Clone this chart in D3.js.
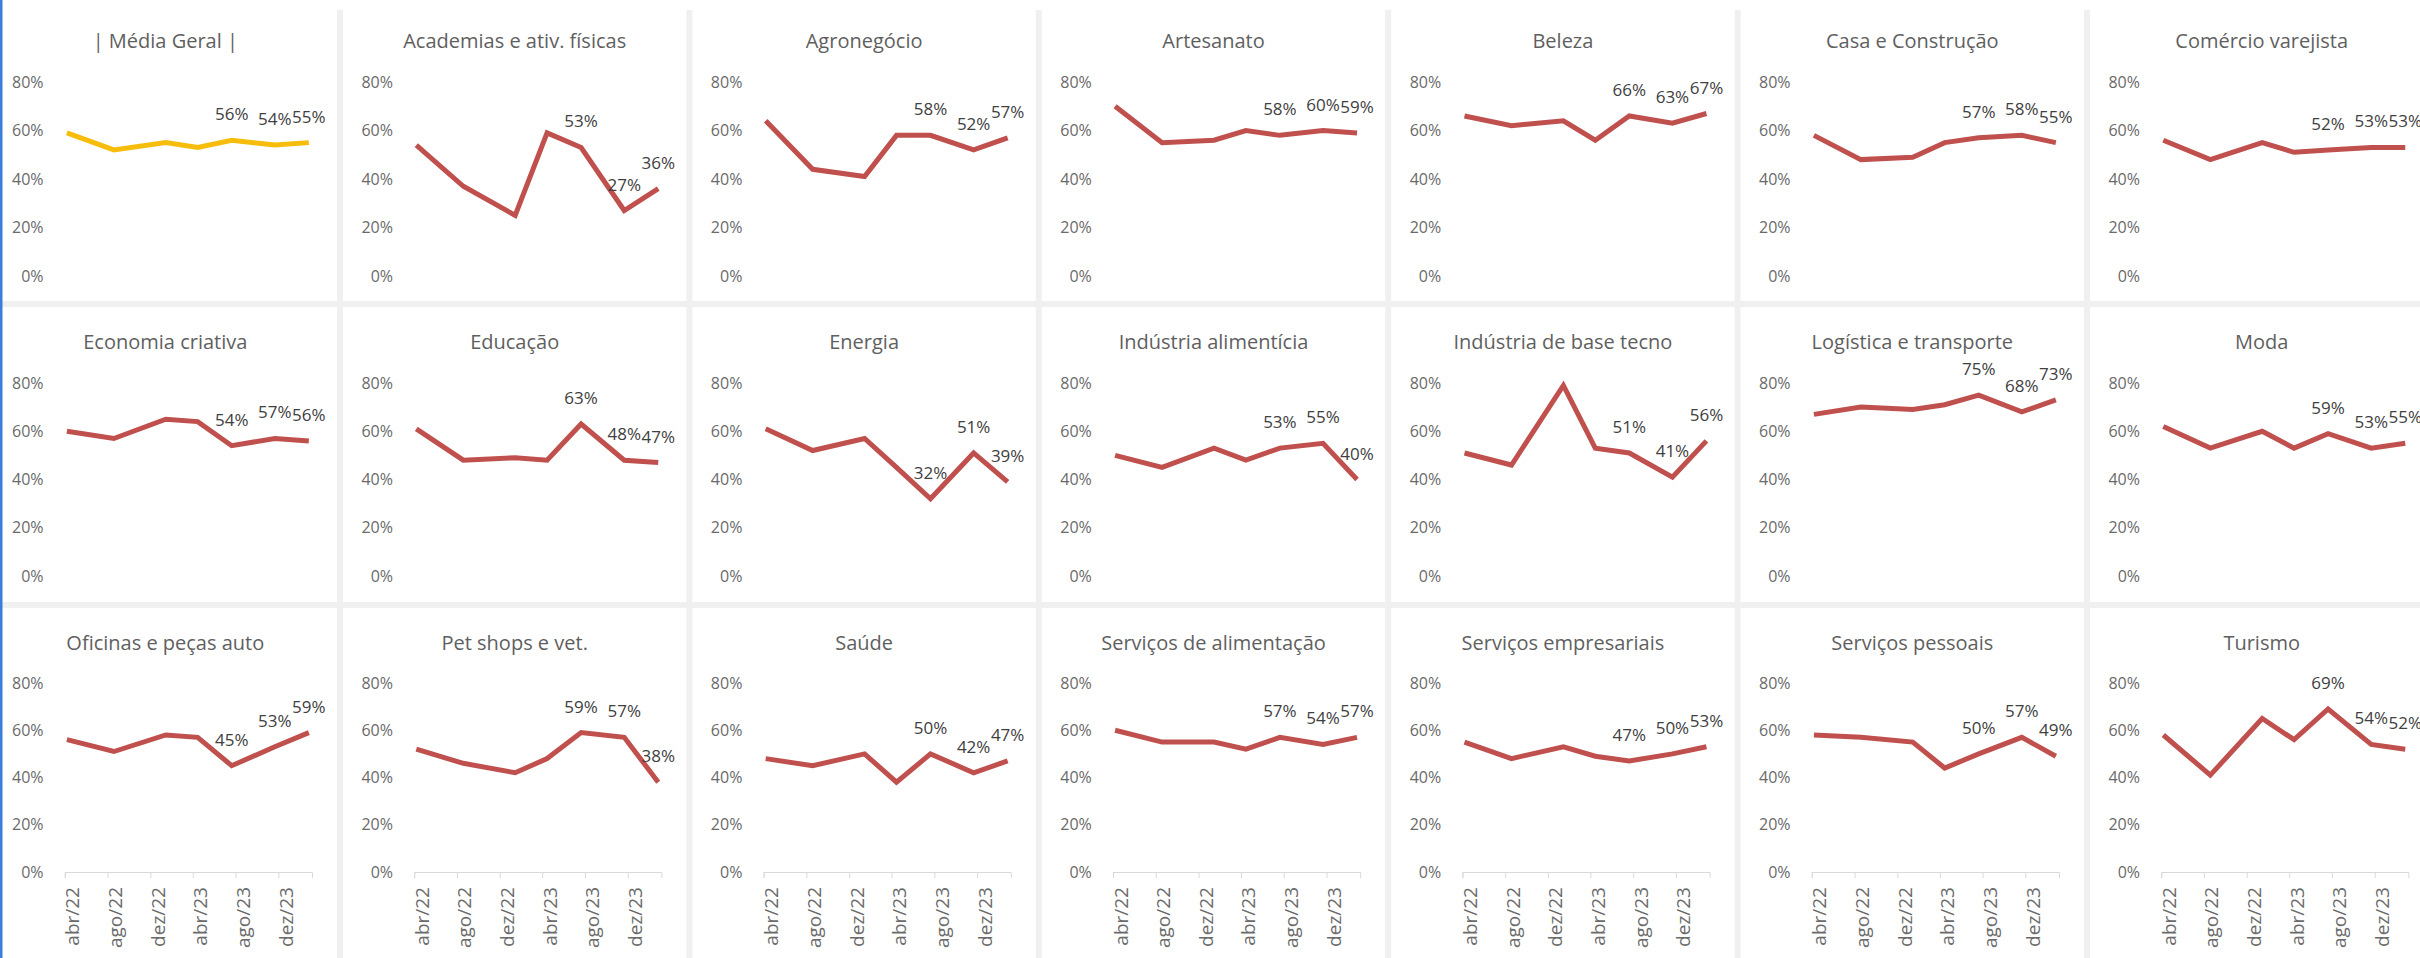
<!DOCTYPE html>
<html>
<head>
<meta charset="utf-8">
<script src="https://cdn.jsdelivr.net/npm/d3@7/dist/d3.min.js"></script>
<style>
body { margin: 0; background: #fff; }
text { font-family: "Segoe UI", "Open Sans", sans-serif; }
</style>
</head>
<body>
<div id="plot"></div>
<script>
// survey dates (one per round) and the x axis ticks
var dates = ["2022-04-07", "2022-08-19", "2023-01-14", "2023-04-15", "2023-07-21", "2023-11-21", "2024-02-26"];
var xTickDates = ["2022-04-01", "2022-08-01", "2022-12-01", "2023-04-01", "2023-08-01", "2023-12-01"];
var xTickLabels = ["abr/22", "ago/22", "dez/22", "abr/23", "ago/23", "dez/23"];
var xLimits = ["2022-04-01", "2024-03-06"];
var yTicks = [0, 20, 40, 60, 80];
var yTickLabels = ["0%", "20%", "40%", "60%", "80%"];

var titles = [
	"| Média Geral |", "Academias e ativ. físicas", "Agronegócio", "Artesanato", "Beleza", "Casa e Construção", "Comércio varejista",
	"Economia criativa", "Educação", "Energia", "Indústria alimentícia", "Indústria de base tecno", "Logística e transporte", "Moda",
	"Oficinas e peças auto", "Pet shops e vet.", "Saúde", "Serviços de alimentação", "Serviços empresariais", "Serviços pessoais", "Turismo"
];

// values in %
var mediaGeral = [59, 52, 55, 53, 56, 54, 55];
var academias = [54, 37, 25, 59, 53, 27, 36];
var agronegocio = [64, 44, 41, 58, 58, 52, 57];
var artesanato = [70, 55, 56, 60, 58, 60, 59];
var beleza = [66, 62, 64, 56, 66, 63, 67];
var casaConstrucao = [58, 48, 49, 55, 57, 58, 55];
var comercioVarejista = [56, 48, 55, 51, 52, 53, 53];
var economiaCriativa = [60, 57, 65, 64, 54, 57, 56];
var educacao = [61, 48, 49, 48, 63, 48, 47];
var energia = [61, 52, 57, 45, 32, 51, 39];
var industriaAlimenticia = [50, 45, 53, 48, 53, 55, 40];
var industriaBaseTecno = [51, 46, 79, 53, 51, 41, 56];
var logistica = [67, 70, 69, 71, 75, 68, 73];
var moda = [62, 53, 60, 53, 59, 53, 55];
var oficinas = [56, 51, 58, 57, 45, 53, 59];
var petShops = [52, 46, 42, 48, 59, 57, 38];
var saude = [48, 45, 50, 38, 50, 42, 47];
var servAlimentacao = [60, 55, 55, 52, 57, 54, 57];
var servEmpresariais = [55, 48, 53, 49, 47, 50, 53];
var servPessoais = [58, 57, 55, 44, 50, 57, 49];
var turismo = [58, 41, 65, 56, 69, 54, 52];

var series = [mediaGeral, academias, agronegocio, artesanato, beleza, casaConstrucao, comercioVarejista,
	economiaCriativa, educacao, energia, industriaAlimenticia, industriaBaseTecno, logistica, moda,
	oficinas, petShops, saude, servAlimentacao, servEmpresariais, servPessoais, turismo];

var W = 2420, H = 958;
var colPitch = 349.4, rowPitch = 301, gap = 6;
var parse = d3.timeParse("%Y-%m-%d");

// per row: offset of 0% and of 80% from the panel top
var rowZero = [270, 269, 264];
var rowTop = [76, 76, 75];

var svg = d3.select("#plot").append("svg")
	.attr("width", W)
	.attr("height", H);

svg.append("rect").attr("x", 0).attr("y", 0).attr("width", W).attr("height", H).attr("fill", "#fff");
svg.append("rect").attr("x", 0).attr("y", 10).attr("width", W).attr("height", H - 10).attr("fill", "#f0f0f0");

series.forEach(function(vals, i) {
	var c = i % 7, r = Math.floor(i / 7);
	var left = 340 - colPitch + c * colPitch + gap / 2;
	var top = 3 + r * rowPitch + gap / 2;
	var pw = colPitch - gap;
	var ph = r < 2 ? rowPitch - gap : H - top;

	var g = svg.append("g");
	g.append("rect")
		.attr("x", left).attr("y", r == 0 ? 0 : top)
		.attr("width", pw).attr("height", r == 0 ? ph + top : ph)
		.attr("fill", "#fff");

	g.append("text")
		.attr("x", left + pw / 2)
		.attr("y", top + 42)
		.attr("text-anchor", "middle")
		.style("font-size", "20px")
		.style("fill", "#5f5f5f")
		.text(titles[i]);

	var x = d3.scaleTime()
		.domain(xLimits.map(parse))
		.range([left + 71.2, left + 318.4]);
	var y = d3.scaleLinear()
		.domain([0, 80])
		.range([top + rowZero[r], top + rowTop[r]]);

	var yAxis = g.append("g")
		.attr("transform", "translate(" + (left + 50) + ",0)")
		.call(d3.axisLeft(y).tickValues(yTicks).tickSize(0).tickPadding(0)
			.tickFormat(function(d, k) { return yTickLabels[k]; }));
	yAxis.select(".domain").remove();
	yAxis.selectAll("text")
		.style("font-size", "16px")
		.style("fill", "#6a6a6a");

	if (r == 2) {
		var xAxis = g.append("g")
			.attr("transform", "translate(0," + y(0) + ")")
			.call(d3.axisBottom(x).tickValues(xTickDates.map(parse)).tickSizeOuter(0).tickSize(6)
				.tickFormat(function(d, k) { return xTickLabels[k]; }));
		xAxis.select(".domain").attr("stroke", "#d9d9d9");
		xAxis.selectAll("line").attr("stroke", "#d9d9d9");
		xAxis.selectAll("text")
			.attr("transform", "rotate(-90)")
			.attr("text-anchor", "end")
			.attr("x", -15)
			.attr("y", 14)
			.attr("dy", 0)
			.style("font-size", "19px")
			.style("fill", "#6a6a6a");
	}

	var pts = vals.map(function(v, k) { return {date: parse(dates[k]), v: v}; });

	var line = d3.line()
		.x(function(d) { return x(d.date); })
		.y(function(d) { return y(d.v); });

	g.append("path")
		.datum(pts)
		.attr("d", line)
		.attr("fill", "none")
		.attr("stroke", i == 0 ? "#f6bd0c" : "#c0504d")
		.attr("stroke-width", 5);

	g.selectAll(".lbl")
		.data(pts.slice(-3))
		.enter().append("text")
		.attr("class", "lbl")
		.attr("x", function(d) { return x(d.date); })
		.attr("y", function(d) { return y(d.v) - 20; })
		.attr("text-anchor", "middle")
		.style("font-size", "17px")
		.style("fill", "#404040")
		.text(function(d) { return d.v + "%"; });
});

// selection border on the left edge
svg.append("rect").attr("x", 0).attr("y", 0).attr("width", 2.5).attr("height", H).attr("fill", "#3b7ddd");
</script>
</body>
</html>
